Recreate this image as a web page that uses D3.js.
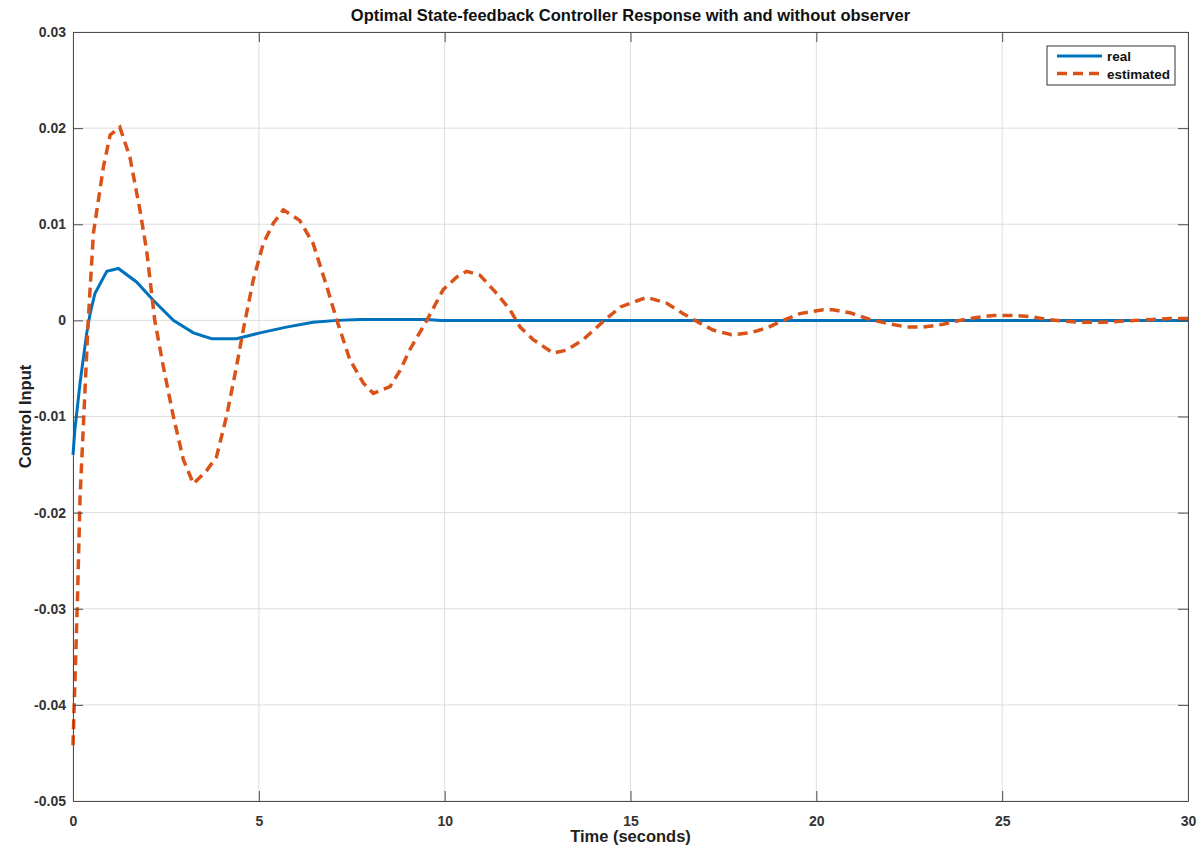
<!DOCTYPE html>
<html>
<head>
<meta charset="utf-8">
<script src="https://cdn.jsdelivr.net/npm/d3@7"></script>
<style>
  body { margin: 0; background: #fff; }
  text { font-family: "Liberation Sans", Arial, sans-serif; font-weight: bold; }
</style>
</head>
<body>
<div id="chart"></div>
<script>
// values
var tReal = [0, 0.05, 0.19, 0.37, 0.46, 0.59, 0.91, 1.22, 1.71, 2.16, 2.7, 3.24, 3.73, 4.4, 5.03, 5.74, 6.46, 7.1, 7.73, 9.5, 9.9, 15, 20, 25, 30];
var uReal = [-0.014, -0.0114, -0.0065, -0.0013, 0.0007, 0.0028, 0.0051, 0.0054, 0.004, 0.0021, 0, -0.0013, -0.0019, -0.0019, -0.0013, -0.0007, -0.0002, 0, 0.0001, 0.0001, 0, 0, 0, 0, 0];

var tEst = [0, 0.12, 0.19, 0.41, 0.55, 0.82, 1.0, 1.26, 1.53, 1.8, 1.98, 2.2, 2.43, 2.7, 2.97, 3.24, 3.6, 3.86, 4.13, 4.4, 4.58, 4.85, 5.12, 5.39, 5.66, 6.1, 6.46, 6.83, 7.1, 7.45, 7.81, 8.08, 8.53, 8.8, 9.07, 9.52, 9.96, 10.32, 10.59, 10.95, 11.4, 11.76, 12.03, 12.38, 12.92, 13.28, 13.73, 14.27, 14.73, 15.43, 15.97, 16.42, 16.87, 17.22, 17.72, 18.21, 18.66, 19.11, 19.56, 20.18, 20.45, 20.9, 21.44, 21.89, 22.43, 22.88, 23.42, 23.86, 24.31, 24.76, 25.3, 25.75, 26.2, 26.73, 27.18, 27.72, 28.17, 28.62, 29.07, 29.52, 30];
var uEst = [-0.0442, -0.029, -0.0184, 0, 0.0091, 0.016, 0.0193, 0.0201, 0.017, 0.0115, 0.0073, 0, -0.0048, -0.01, -0.0145, -0.017, -0.0156, -0.0142, -0.01, -0.0048, -0.001, 0.0042, 0.008, 0.0101, 0.0115, 0.0104, 0.008, 0.0035, 0, -0.0041, -0.0065, -0.0076, -0.0069, -0.0052, -0.003, 0, 0.0032, 0.0045, 0.0051, 0.0047, 0.0028, 0.0011, -0.0007, -0.002, -0.0034, -0.0031, -0.002, -0.0001, 0.0014, 0.0024, 0.0018, 0.0007, -0.0003, -0.001, -0.0015, -0.0013, -0.0008, 0, 0.0007, 0.0011, 0.0011, 0.0008, 0.0001, -0.0003, -0.0007, -0.0007, -0.0004, 0, 0.0003, 0.0005, 0.0005, 0.0004, 0.0001, -0.0001, -0.0002, -0.0002, -0.0001, 0, 0.0001, 0.0002, 0.0002];

var xTicks = [0, 5, 10, 15, 20, 25, 30];
var yTicks = [0.03, 0.02, 0.01, 0, -0.01, -0.02, -0.03, -0.04, -0.05];
var yTickLabels = ["0.03", "0.02", "0.01", "0", "-0.01", "-0.02", "-0.03", "-0.04", "-0.05"];
var seriesNames = ["real", "estimated"];

var W = 1202, H = 850;
var margin = { top: 32, right: 14, bottom: 49, left: 73 };
var width = W - margin.left - margin.right,
    height = H - margin.top - margin.bottom;

var svg = d3.select("#chart").append("svg")
  .attr("width", W).attr("height", H);

var g = svg.append("g")
  .attr("transform", "translate(" + margin.left + "," + margin.top + ")");

var x = d3.scaleLinear().domain([0, 30]).range([0, width]);
var y = d3.scaleLinear().domain([-0.05, 0.03]).range([height, 0]);

// grid
g.append("g").selectAll("line").data(xTicks).enter().append("line")
  .attr("x1", d => x(d)).attr("x2", d => x(d))
  .attr("y1", 0).attr("y2", height)
  .attr("stroke", "#dedede").attr("stroke-width", 1);
g.append("g").selectAll("line").data(yTicks).enter().append("line")
  .attr("y1", d => y(d)).attr("y2", d => y(d))
  .attr("x1", 0).attr("x2", width)
  .attr("stroke", "#dedede").attr("stroke-width", 1);

// lines
var lineFn = d3.line().x(d => x(d[0])).y(d => y(d[1]));

g.append("path")
  .datum(d3.zip(tReal, uReal))
  .attr("d", lineFn)
  .attr("fill", "none")
  .attr("stroke", "#0072BD")
  .attr("stroke-width", 3);

g.append("path")
  .datum(d3.zip(tEst, uEst))
  .attr("d", lineFn)
  .attr("fill", "none")
  .attr("stroke", "#D95319")
  .attr("stroke-width", 3.5)
  .attr("stroke-dasharray", "10,6");

// axes (MATLAB-style box, ticks inward)
var axisColor = "#4d4d4d";
var xAxis = g.append("g").attr("transform", "translate(0," + height + ")")
  .call(d3.axisBottom(x).tickValues(xTicks).tickSizeInner(-10).tickSizeOuter(0).tickPadding(15));
var yAxis = g.append("g")
  .call(d3.axisLeft(y).tickValues(yTicks).tickSizeInner(-10).tickSizeOuter(0).tickPadding(7)
    .tickFormat((d, i) => yTickLabels[i]));
var xTop = g.append("g")
  .call(d3.axisTop(x).tickValues(xTicks).tickSizeInner(-10).tickSizeOuter(0).tickFormat(""));
var yRight = g.append("g").attr("transform", "translate(" + width + ",0)")
  .call(d3.axisRight(y).tickValues(yTicks).tickSizeInner(-10).tickSizeOuter(0).tickFormat(""));

[xAxis, yAxis, xTop, yRight].forEach(function (a) {
  a.selectAll("path, line").attr("stroke", axisColor);
  a.selectAll("text").attr("fill", "#333").style("font-size", "14px");
});

// titles
svg.append("text")
  .attr("x", margin.left + width / 2).attr("y", 21)
  .attr("text-anchor", "middle")
  .style("font-size", "16.5px").attr("fill", "#111")
  .text("Optimal State-feedback Controller Response with and without observer");

svg.append("text")
  .attr("x", margin.left + width / 2).attr("y", 842)
  .attr("text-anchor", "middle")
  .style("font-size", "16.5px").attr("fill", "#222")
  .text("Time (seconds)");

svg.append("text")
  .attr("transform", "translate(31," + (margin.top + height / 2) + ") rotate(-90)")
  .attr("text-anchor", "middle")
  .style("font-size", "16.5px").attr("fill", "#222")
  .text("Control Input");

// legend
var leg = svg.append("g").attr("transform", "translate(1047,46)");
leg.append("rect").attr("width", 128).attr("height", 39)
  .attr("fill", "#fff").attr("stroke", "#333").attr("stroke-width", 1);
var legStyles = [
  { color: "#0072BD", dash: null, w: 3 },
  { color: "#D95319", dash: "10,6", w: 3.5 }
];
seriesNames.forEach(function (name, i) {
  var yy = 10 + i * 17.5;
  leg.append("line")
    .attr("x1", 10).attr("x2", 55).attr("y1", yy).attr("y2", yy)
    .attr("stroke", legStyles[i].color).attr("stroke-width", legStyles[i].w)
    .attr("stroke-dasharray", legStyles[i].dash);
  leg.append("text")
    .attr("x", 60).attr("y", yy + 5)
    .style("font-size", "13.5px").attr("fill", "#111")
    .text(name);
});
</script>
</body>
</html>
